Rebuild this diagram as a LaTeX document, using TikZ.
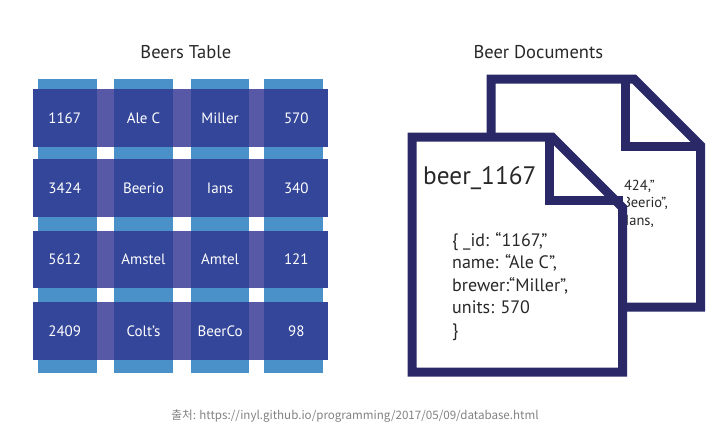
\documentclass[tikz,border=0pt]{standalone}
\usepackage{fontspec}
\setmainfont{PT Sans}
\newfontfamily\krfont{Noto Sans CJK KR}
\definecolor{colblue}{RGB}{74,144,201}
\definecolor{rowpurple}{RGB}{88,89,166}
\definecolor{celldark}{RGB}{52,70,154}
\definecolor{docnavy}{RGB}{43,40,104}
\definecolor{doctext}{RGB}{40,40,40}
\definecolor{captiongray}{RGB}{130,130,130}
\tikzset{
  colstrip/.style={fill=colblue},
  rowstrip/.style={fill=rowpurple},
  cell/.style={fill=celldark, inner sep=0pt, minimum height=57.8pt, text=white,
    font=\fontsize{15}{18}\selectfont},
  title/.style={text=doctext, font=\fontsize{18.5}{22}\selectfont, inner sep=0pt},
  docline/.style={draw=docnavy, line width=9pt, miter limit=10, line join=miter, fill=white},
  foldline/.style={draw=docnavy, line width=9pt, line join=miter},
  backtext/.style={text=doctext, font=\fontsize{14.5}{17}\selectfont, inner sep=0pt, anchor=base east}
}
\begin{document}
\begin{tikzpicture}[x=1pt,y=-1pt]
\useasboundingbox[fill=white] (0,0) rectangle (716,434);
% titles
\node[title] (t1) at (185.8,51.7) {Beers Table};
\node[title] (t2) at (538.3,51.7) {Beer Documents};
% column strips
\foreach \xa/\xb in {38.3/96.7,114.3/172.7,191/249.3,264.3/322.7}{
  \path[colstrip] (\xa,79.3) rectangle (\xb,372.7);
}
% row strips
\foreach \ya/\yb in {89.3/147.3,159/216.7,230.7/288.3,302.3/360}{
  \path[rowstrip] (32.7,\ya) rectangle (328.3,\yb);
}
% cells
\node[cell,minimum width=64pt] (c11) at (64.7,118.3) {1167};
\node[cell,minimum width=58.4pt] (c12) at (143.5,118.3) {Ale C};
\node[cell,minimum width=58.3pt] (c13) at (220.15,118.3) {Miller};
\node[cell,minimum width=64pt] (c14) at (296.3,118.3) {570};
\node[cell,minimum width=64pt] (c21) at (64.7,187.85) {3424};
\node[cell,minimum width=58.4pt] (c22) at (143.5,187.85) {Beerio};
\node[cell,minimum width=58.3pt] (c23) at (220.15,187.85) {Ians};
\node[cell,minimum width=64pt] (c24) at (296.3,187.85) {340};
\node[cell,minimum width=64pt] (c31) at (64.7,259.5) {5612};
\node[cell,minimum width=58.4pt] (c32) at (143.5,259.5) {Amstel};
\node[cell,minimum width=58.3pt] (c33) at (220.15,259.5) {Amtel};
\node[cell,minimum width=64pt] (c34) at (296.3,259.5) {121};
\node[cell,minimum width=64pt] (c41) at (64.7,331.15) {2409};
\node[cell,minimum width=58.4pt] (c42) at (143.5,331.15) {Colt’s};
\node[cell,minimum width=58.3pt] (c43) at (220.15,331.15) {BeerCo};
\node[cell,minimum width=64pt] (c44) at (296.3,331.15) {98};
% back document
\path[docline] (491,79) -- (634,79) -- (700.5,145.5) -- (700.5,307) -- (491,307) -- cycle;
\begin{scope}
  \clip (623,150) rectangle (696,195);
  \node[backtext] (b1) at (655,190) {\{ \_id: “3424,”};
\end{scope}
\begin{scope}
  \clip (627.5,195) rectangle (696,300);
  \node[backtext] (b2) at (668,207.5) {name: “Beerio”,};
  \node[backtext] (b3) at (654,225) {brewer: Ians,};
\end{scope}
\path[foldline] (625.5,79) -- (625.5,146) -- (700.5,146);
% front document
\path[docline] (412,137) -- (552,137) -- (622.5,207.5) -- (622.5,372) -- (412,372) -- cycle;
\path[foldline] (549,137) -- (549,200) -- (622.5,200);
\node[text=doctext, font=\fontsize{25.3}{30}\selectfont, inner sep=0pt, anchor=base west] (fname) at (423,184) {beer\_1167};
\node[text=doctext, font=\fontsize{18}{22.5}\selectfont, inner sep=0pt, anchor=north west, align=left] (fbody) at (452,232)
  {\{ \_id: “1167,”\\name: “Ale C”,\\brewer:“Miller”,\\units: 570\\\}};
% caption
\node[text=captiongray, font=\krfont\fontsize{11.6}{14}\selectfont, inner sep=0pt] (cap) at (355,415.7)
  {출처: https://inyl.github.io/programming/2017/05/09/database.html};
\end{tikzpicture}
\end{document}
